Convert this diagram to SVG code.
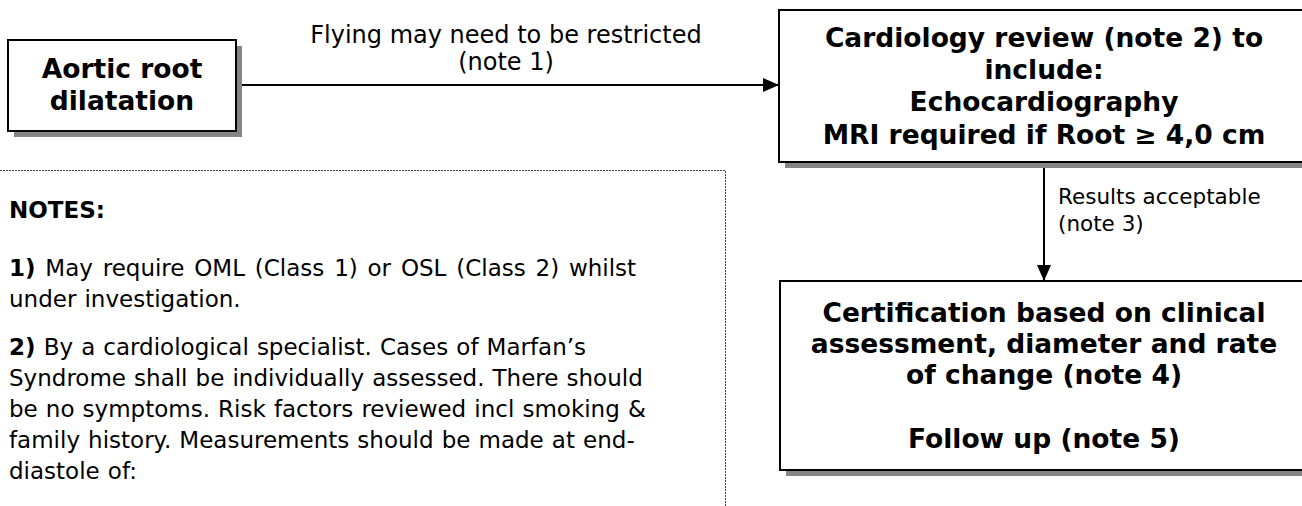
<svg xmlns="http://www.w3.org/2000/svg" width="1302" height="506" viewBox="0 0 1302 506">
  <defs>
    <marker id="arrow" viewBox="0 0 16 14" refX="16" refY="7" markerWidth="16" markerHeight="14" markerUnits="userSpaceOnUse" orient="auto">
      <path d="M0,0 L16,7 L0,14 Z" fill="#000"/>
    </marker>
  </defs>
  <style>
    .shadow { fill: #858585; }
    .box { fill: #fff; stroke: #000; stroke-width: 2; }
    .title { font-family: "DejaVu Sans", Verdana, sans-serif; font-weight: bold; font-size: 26.5px; fill: #000; text-anchor: middle; }
    .label { font-family: "DejaVu Sans", Verdana, sans-serif; font-size: 24px; fill: #000; }
    .small { font-size: 21.5px; }
    .note { font-family: "DejaVu Sans", Verdana, sans-serif; font-size: 23px; word-spacing: 0.8px; fill: #000; }
    .wide { word-spacing: 2.5px; }
    .b { font-weight: bold; }
    .edge { fill: none; stroke: #000; stroke-width: 2; }
    .notes-frame { fill: none; stroke: #444; stroke-width: 1; stroke-dasharray: 2 1; }
  </style>
  <rect width="1302" height="506" fill="#fff"/>

  <!-- Notes panel -->
  <g id="notes">
    <path class="notes-frame" d="M0,170.5 H725.5 V506"/>
    <text class="note b" x="9" y="218">NOTES:</text>
    <text class="note wide" x="9" y="276"><tspan class="b">1)</tspan> May require OML (Class 1) or OSL (Class 2) whilst</text>
    <text class="note" x="9" y="307">under investigation.</text>
    <text class="note" x="9" y="355"><tspan class="b">2)</tspan> By a cardiological specialist. Cases of Marfan’s</text>
    <text class="note" x="9" y="386">Syndrome shall be individually assessed. There should</text>
    <text class="note" x="9" y="417">be no symptoms. Risk factors reviewed incl smoking &amp;</text>
    <text class="note" x="9" y="448">family history. Measurements should be made at end-</text>
    <text class="note" x="9" y="479">diastole of:</text>
  </g>

  <!-- Connectors -->
  <g id="connectors">
    <line class="edge" x1="236" y1="85" x2="779" y2="85" marker-end="url(#arrow)"/>
    <text class="label" x="506" y="43" text-anchor="middle">Flying may need to be restricted</text>
    <text class="label" x="506" y="70" text-anchor="middle">(note 1)</text>
    <line class="edge" x1="1044" y1="162" x2="1044" y2="281" marker-end="url(#arrow)"/>
    <text class="label small" x="1058" y="204">Results acceptable</text>
    <text class="label small" x="1058" y="231">(note 3)</text>
  </g>

  <!-- Start node -->
  <g id="aortic-root">
    <rect class="shadow" x="14" y="46" width="228" height="91"/>
    <rect class="box" x="8" y="40" width="228" height="91"/>
    <text class="title" x="122" y="78">Aortic root</text>
    <text class="title" x="122" y="110">dilatation</text>
  </g>

  <!-- Cardiology review node -->
  <g id="cardiology-review">
    <rect class="shadow" x="785" y="16" width="530" height="152"/>
    <rect class="box" x="779" y="10" width="530" height="152"/>
    <text class="title" x="1044" y="47">Cardiology review (note 2) to</text>
    <text class="title" x="1044" y="79">include:</text>
    <text class="title" x="1044" y="111">Echocardiography</text>
    <text class="title" x="1044" y="144">MRI required if Root ≥ 4,0 cm</text>
  </g>

  <!-- Certification node -->
  <g id="certification">
    <rect class="shadow" x="786" y="287" width="530" height="189"/>
    <rect class="box" x="780" y="281" width="530" height="189"/>
    <text class="title" x="1044" y="322">Certification based on clinical</text>
    <text class="title" x="1044" y="353">assessment, diameter and rate</text>
    <text class="title" x="1044" y="384">of change (note 4)</text>
    <text class="title" x="1044" y="448">Follow up (note 5)</text>
  </g>
</svg>
